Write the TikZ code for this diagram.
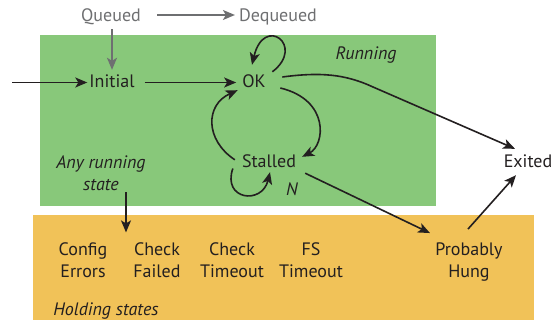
\documentclass[tikz,border=0pt]{standalone}
\usepackage{fontspec}
\setmainfont{PT Sans}
\usetikzlibrary{arrows.meta,calc}
\definecolor{runbg}{RGB}{136,200,122}
\definecolor{holdbg}{RGB}{241,194,88}
\definecolor{ink}{RGB}{35,31,32}
\definecolor{dim}{RGB}{110,111,113}
\begin{document}
\begin{tikzpicture}[x=1pt,y=-1pt,
  lbl/.style={font=\fontsize{18}{22}\selectfont, text=ink, inner sep=2pt, anchor=base, align=center},
  state/.style={lbl, text height=13pt, text depth=2pt},
  note/.style={lbl, font=\fontsize{18}{22}\selectfont\itshape},
  queue/.style={state, text=dim},
  tip/.style={-{Stealth[length=12pt,width=10pt,inset=3pt]}},
  arr/.style={draw=ink, line width=1.6pt, tip},
  garr/.style={arr, draw=dim}
]
\useasboundingbox (0,0) rectangle (557,320);
% backgrounds: running area and holding area
\fill[runbg] (40,35) rectangle (436,206);
\fill[holdbg] (33,215) rectangle (534,320);

% queue states
\node[queue] (queued) at (111,22) {Queued};
\node[queue] (dequeued) at (278,22) {Dequeued};

% running states
\node[state] (initial) at (112,88) {Initial};
\node[state] (ok) at (254,88) {OK};
\node[state] (stalled) at (269,168) {Stalled};
\node[state] (exited) at (528,168) {Exited};
\node[note] (running) at (366,60) {Running};
\node[note] (n) at (292,196) {N};
\node[note] (anyrun) at (101,191) {Any running\\state};

% holding states (multi-line nodes sit on their last baseline)
\node[lbl] (cfg) at (83,278) {Config\\Errors};
\node[lbl] (chkfail) at (157,278) {Check\\Failed};
\node[lbl] (chkto) at (232,278) {Check\\Timeout};
\node[lbl] (fsto) at (311,278) {FS\\Timeout};
\node[lbl] (hung) at (469,278) {Probably\\Hung};
\node[note] (holding) at (106,316) {Holding states};

\coordinate (entry) at ($(initial.west)+(-75,0)$);

% queue transitions
\draw[garr] ($(queued.east)+(14,-1.5)$) -- ($(dequeued.west)+(-2,-1.5)$);
\draw[garr] ($(queued.south)+(1,3)$) -- ($(initial.north)+(0,-3)$);

% main flow
\draw[arr] (entry) -- (initial.west);
\draw[arr] ($(initial.east)+(8,0)$) -- ($(ok.west)+(-4,0)$);
\draw[arr] ($(ok.north east)+(4.5,-1)$) .. controls (306,46) and (264,14) .. ($(ok.north)+(-2,-8)$);
\draw[arr] ($(ok.east)+(14.5,-5.5)$) .. controls (320,72) and (345,74) .. (373,87) -- ($(exited.north)+(-13,-4)$);
\draw[arr] ($(ok.east)+(12.5,5.5)$) .. controls (330,100) and (325,145) .. ($(stalled.north east)+(4,4)$);
\draw[arr] ($(stalled.north west)+(-5,7)$) .. controls (205,140) and (205,105) .. ($(ok.south west)+(-2.5,-2)$);
\draw[arr] ($(stalled.west)+(-7,6)$) .. controls (222,200) and (262,205) .. ($(stalled.south)+(1,0)$);
\draw[arr] ($(stalled.south east)+(7,1)$) -- ($(hung.north)+(-39,-8)$);
\draw[arr] ($(hung.north)+(-1,-12)$) -- ($(exited.south)+(-12,3)$);
\draw[arr] ($(anyrun.south)+(25,-1)$) -- ($(anyrun.south)+(25,39)$);
\end{tikzpicture}
\end{document}
